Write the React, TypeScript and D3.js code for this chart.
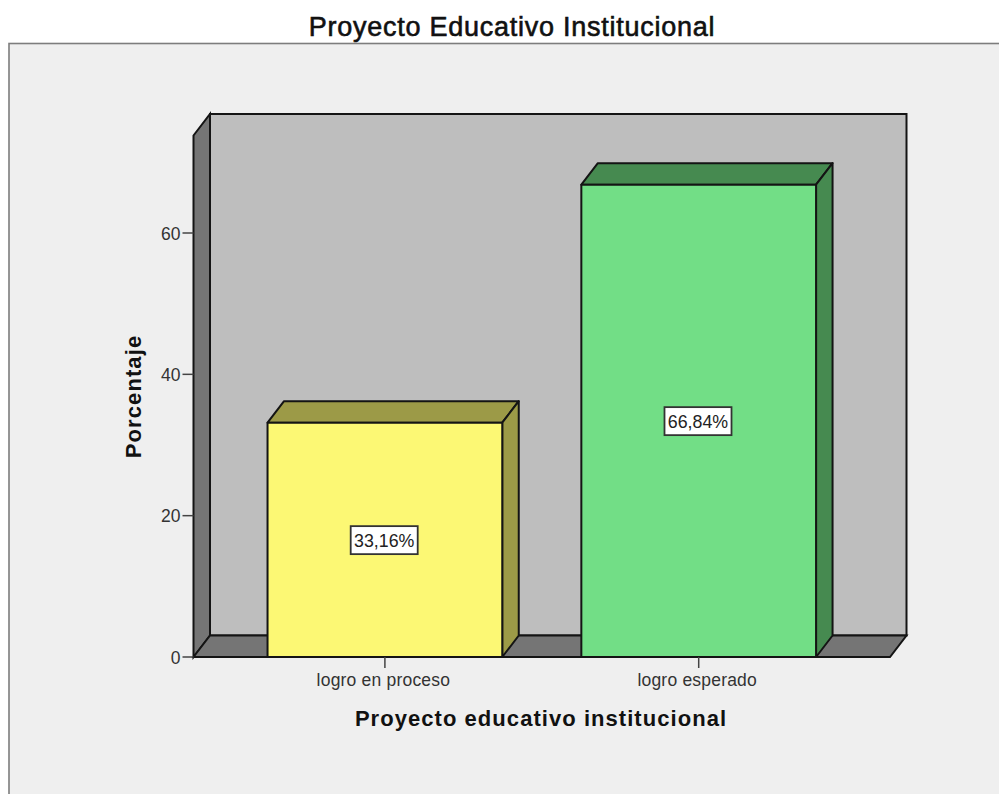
import React from "react";
import * as d3 from "d3";

const categories = ["logro en proceso", "logro esperado"];
const values = [33.16, 66.84];
const valueLabels = ["33,16%", "66,84%"];
const yTicks = [0, 20, 40, 60];
const frontColors = ["#fcf874", "#72de86"];
const topColors = ["#9c9a47", "#468a50"];
const sideColors = ["#9c9a47", "#468a50"];

const W = 999, H = 794;
const DX = 16.5, DY = -21.5;
const x0 = 193.5, x1 = 890;
const y = d3.scaleLinear().domain([0, 60]).range([657, 233]);
const x = d3.scaleBand<string>().domain(categories).range([228, 855.6]).paddingInner(0.252).paddingOuter(0.126);
const yTop = 135.5;
const sans = "'Liberation Sans', Arial, sans-serif";
const ink = "#141414";

const poly = (pts: [number, number][]) => d3.line()(pts)! + "Z";

export default function App() {
  const yb = y(0);
  return (
    <svg width={W} height={H} style={{ position: "absolute", left: 0, top: 0, display: "block" }} fontFamily={sans}>
      <rect width={W} height={H} fill="#fff" />
      <rect x={9} y={43.5} width={W + 10} height={H} fill="#efefef" stroke="#7d7d7d" strokeWidth={1.6} />
      <text x={512} y={36} textAnchor="middle" fontSize={27} fill="#111" stroke="#111" strokeWidth={0.6} letterSpacing={0.75}>Proyecto Educativo Institucional</text>

      {/* back wall */}
      <path d={poly([[x0 + DX, yTop + DY], [x1 + DX, yTop + DY], [x1 + DX, yb + DY], [x0 + DX, yb + DY]])} fill="#bebebe" stroke={ink} strokeWidth={2} />
      {/* left wall */}
      <path d={poly([[x0, yTop], [x0 + DX, yTop + DY], [x0 + DX, yb + DY], [x0, yb]])} fill="#757575" stroke={ink} strokeWidth={2} />
      {/* floor */}
      <path d={poly([[x0, yb], [x0 + DX, yb + DY], [x1 + DX, yb + DY], [x1, yb]])} fill="#757575" stroke={ink} strokeWidth={2} />

      {/* y ticks */}
      {yTicks.map((t) => (
        <g key={t}>
          <line x1={x0 - 11} x2={x0} y1={y(t)} y2={y(t)} stroke="#444" strokeWidth={1.5} />
          <text x={x0 - 13} y={y(t) + 6.5} textAnchor="end" fontSize={17.5} fill="#333">{t}</text>
        </g>
      ))}

      {/* bars */}
      {categories.map((c, i) => {
        const l = x(c)!, r = l + x.bandwidth(), t = y(values[i]);
        return (
          <g key={c} stroke={ink} strokeWidth={2} strokeLinejoin="round">
            <path d={poly([[l, t], [l + DX, t + DY], [r + DX, t + DY], [r, t]])} fill={topColors[i]} />
            <path d={poly([[r, t], [r + DX, t + DY], [r + DX, yb + DY], [r, yb]])} fill={sideColors[i]} />
            <rect x={l} y={t} width={x.bandwidth()} height={yb - t} fill={frontColors[i]} />
          </g>
        );
      })}

      {/* value labels */}
      {categories.map((c, i) => {
        const cx = x(c)! + x.bandwidth() / 2 - 0.7, cy = y(values[i] / 2) + 0.3;
        return (
          <g key={c}>
            <rect x={cx - 33.5} y={cy - 14} width={67} height={28} fill="#fff" stroke="#333" strokeWidth={1.8} />
            <text x={cx} y={cy + 7} textAnchor="middle" fontSize={17.8} fill="#222">{valueLabels[i]}</text>
          </g>
        );
      })}

      {/* x ticks */}
      {categories.map((c) => {
        const cx = x(c)! + x.bandwidth() / 2;
        return (
          <g key={c}>
            <line x1={cx} x2={cx} y1={yb} y2={yb + 11} stroke="#444" strokeWidth={1.5} />
            <text x={cx - 1.5} y={686} textAnchor="middle" fontSize={17.5} letterSpacing={0.2} fill="#333">{c}</text>
          </g>
        );
      })}

      <text x={541} y={726} textAnchor="middle" fontSize={22} fontWeight="bold" letterSpacing={1.05} fill="#111">Proyecto educativo institucional</text>
      <text transform="translate(141,396.5) rotate(-90)" textAnchor="middle" fontSize={22} fontWeight="bold" letterSpacing={1.1} fill="#111">Porcentaje</text>
    </svg>
  );
}
